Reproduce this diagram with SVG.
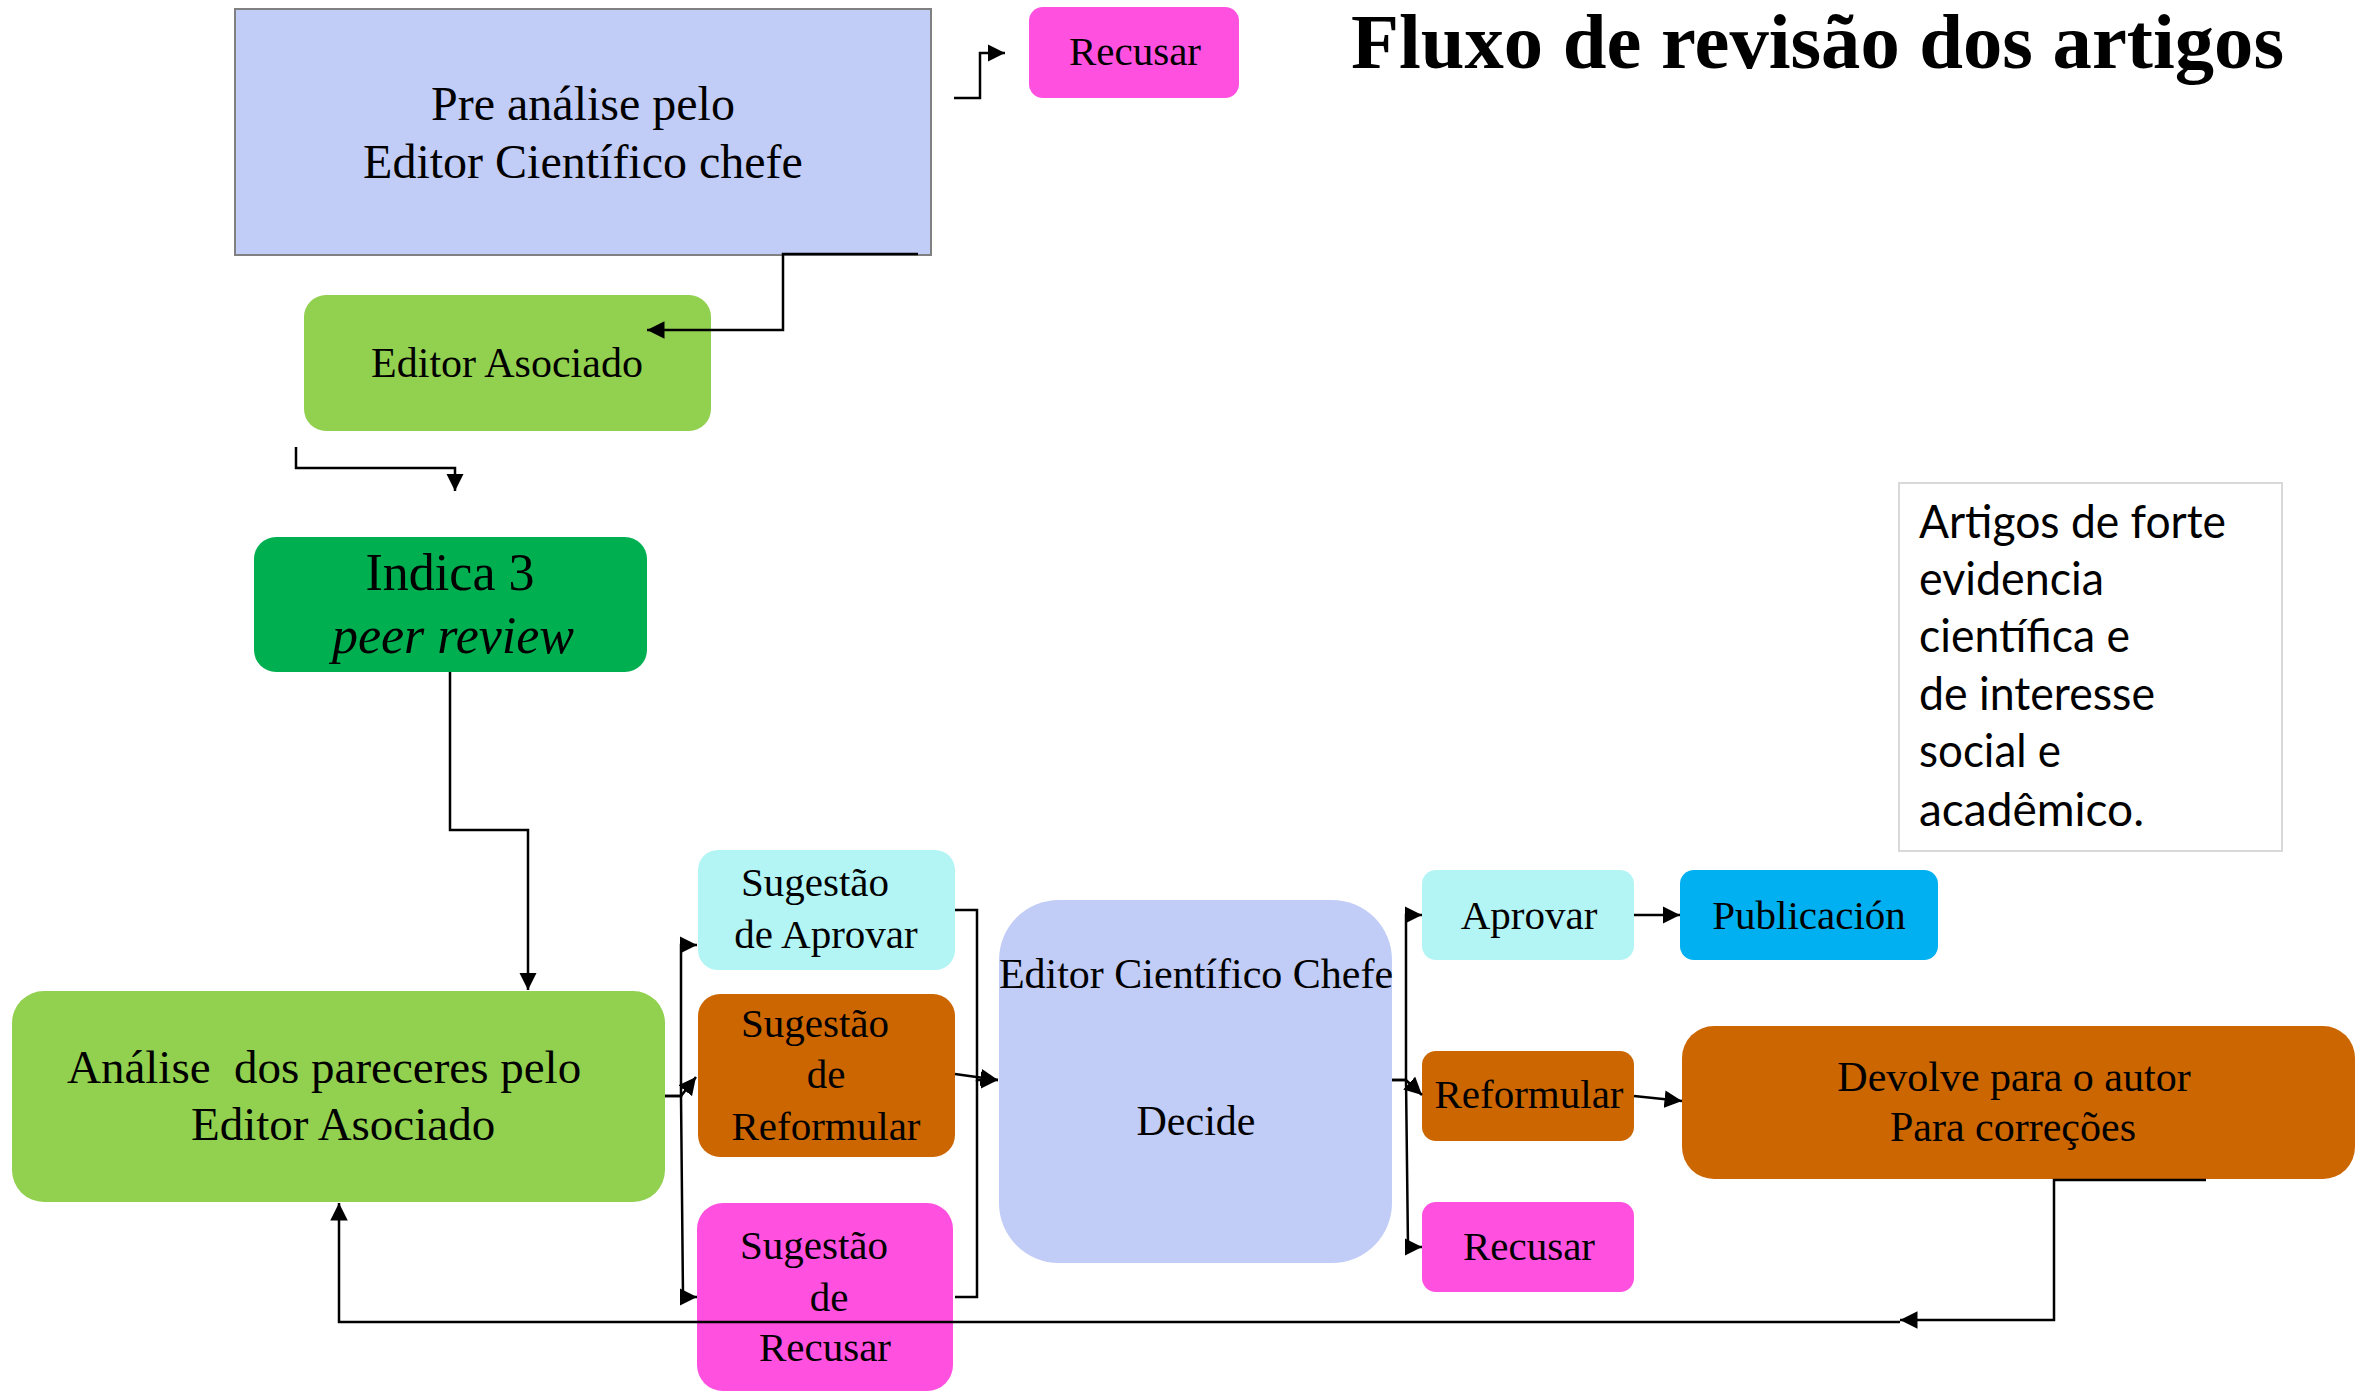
<svg xmlns="http://www.w3.org/2000/svg" width="2361" height="1393" viewBox="0 0 2361 1393">
<defs>
<style>
.t{font-family:"Liberation Serif","Times New Roman",serif;fill:#000;text-anchor:middle}
.ts{font-family:"Liberation Serif","Times New Roman",serif;fill:#000;text-anchor:start}
.s{font-family:Lato,"Open Sans",sans-serif;fill:#000;font-size:46px}
.c{fill:none;stroke:#000;stroke-width:2.5}
.blue{fill:#c1cdf7}
.pink{fill:#ff50df}
.lg{fill:#92d050}
.dg{fill:#00b050}
.cy{fill:#b3f5f5}
.or{fill:#cc6600}
.sky{fill:#00b0f0}
</style>
<marker id="ah" viewBox="0 0 10 10" refX="10" refY="5" markerWidth="7" markerHeight="7" orient="auto" markerUnits="strokeWidth"><path d="M0,0 L10,5 L0,10 z" fill="#000"/></marker>
</defs>
<rect width="2361" height="1393" fill="#fff"/>

<text class="ts" x="1351" y="68" font-size="78" font-weight="bold" textLength="933" lengthAdjust="spacingAndGlyphs">Fluxo de revisão dos artigos</text>

<g id="pre-analise">
<rect class="blue" x="235" y="9" width="696" height="246" stroke="#808080" stroke-width="2"/>
<text class="t" x="583" y="120" font-size="48">Pre análise pelo</text>
<text class="t" x="583" y="178" font-size="48">Editor Científico chefe</text>
</g>

<g id="recusar-top">
<rect class="pink" x="1029" y="7" width="210" height="91" rx="14"/>
<text class="t" x="1135" y="65" font-size="41">Recusar</text>
</g>

<g id="editor-asociado">
<rect class="lg" x="304" y="295" width="407" height="136" rx="22"/>
<text class="t" x="507" y="377" font-size="42">Editor Asociado</text>
</g>

<g id="indica">
<rect class="dg" x="254" y="537" width="393" height="135" rx="22"/>
<text class="t" x="450" y="590" font-size="52">Indica 3</text>
<text class="t" x="453" y="653" font-size="52" font-style="italic">peer review</text>
</g>

<g id="analise">
<rect class="lg" x="12" y="991" width="653" height="211" rx="32"/>
<text class="ts" x="67" y="1083" font-size="47" style="white-space:pre">Análise  dos pareceres pelo</text>
<text class="ts" x="191" y="1140" font-size="47">Editor Asociado</text>
</g>

<g id="sug-aprovar">
<rect class="cy" x="698" y="850" width="257" height="120" rx="20"/>
<text class="t" x="815" y="896" font-size="41">Sugestão</text>
<text class="t" x="826" y="948" font-size="41">de Aprovar</text>
</g>

<g id="sug-reformular">
<rect class="or" x="698" y="994" width="257" height="163" rx="22"/>
<text class="t" x="815" y="1037" font-size="41">Sugestão</text>
<text class="t" x="826" y="1088" font-size="41">de</text>
<text class="t" x="826" y="1140" font-size="41">Reformular</text>
</g>

<g id="sug-recusar">
<rect class="pink" x="697" y="1203" width="256" height="188" rx="26"/>
<text class="t" x="814" y="1259" font-size="41">Sugestão</text>
<text class="t" x="829" y="1311" font-size="41">de</text>
<text class="t" x="825" y="1361" font-size="41">Recusar</text>
</g>

<g id="decide">
<rect class="blue" x="999" y="900" width="393" height="363" rx="60"/>
<text class="t" x="1196" y="988" font-size="42">Editor Científico Chefe</text>
<text class="t" x="1196" y="1135" font-size="42">Decide</text>
</g>

<g id="aprovar">
<rect class="cy" x="1422" y="870" width="212" height="90" rx="14"/>
<text class="t" x="1529" y="929" font-size="41">Aprovar</text>
</g>

<g id="publicacion">
<rect class="sky" x="1680" y="870" width="258" height="90" rx="14"/>
<text class="t" x="1809" y="929" font-size="41">Publicación</text>
</g>

<g id="reformular">
<rect class="or" x="1422" y="1051" width="212" height="90" rx="14"/>
<text class="t" x="1529" y="1108" font-size="41">Reformular</text>
</g>

<g id="recusar-right">
<rect class="pink" x="1422" y="1202" width="212" height="90" rx="14"/>
<text class="t" x="1529" y="1260" font-size="41">Recusar</text>
</g>

<g id="devolve">
<rect class="or" x="1682" y="1026" width="673" height="153" rx="32"/>
<text class="t" x="2014" y="1091" font-size="42">Devolve para o autor</text>
<text class="t" x="2013" y="1141" font-size="42">Para correções</text>
</g>

<g id="nota">
<rect x="1899" y="483" width="383" height="368" fill="#fff" stroke="#d9d9d9" stroke-width="2"/>
<text class="s" x="1919" y="538" textLength="307" lengthAdjust="spacingAndGlyphs">Artigos de forte</text>
<text class="s" x="1919" y="595" textLength="185" lengthAdjust="spacingAndGlyphs">evidencia</text>
<text class="s" x="1919" y="652" textLength="211" lengthAdjust="spacingAndGlyphs">científica e</text>
<text class="s" x="1919" y="710" textLength="236" lengthAdjust="spacingAndGlyphs">de interesse</text>
<text class="s" x="1919" y="767" textLength="142" lengthAdjust="spacingAndGlyphs">social e</text>
<text class="s" x="1919" y="826" textLength="225" lengthAdjust="spacingAndGlyphs">acadêmico.</text>
</g>

<g id="connectors">
<path class="c" d="M954,98 H980 V53 H1005" marker-end="url(#ah)"/>
<path class="c" d="M918,254 H783 V330 H647" marker-end="url(#ah)"/>
<path class="c" d="M296,447 V468 H455 V491" marker-end="url(#ah)"/>
<path class="c" d="M450,672 V830 H528 V990" marker-end="url(#ah)"/>
<path class="c" d="M665,1096 H681 V945 H697" marker-end="url(#ah)"/>
<path class="c" d="M665,1096 H681 L696,1077" marker-end="url(#ah)"/>
<path class="c" d="M681,1096 L683,1297 H697" marker-end="url(#ah)"/>
<path class="c" d="M955,910 H977 V1080 H998" marker-end="url(#ah)"/>
<path class="c" d="M955,1297 H977 V1080"/>
<path class="c" d="M955,1074 L998,1080" marker-end="url(#ah)"/>
<path class="c" d="M1392,1080 H1406 V915 H1422" marker-end="url(#ah)"/>
<path class="c" d="M1392,1080 H1406 L1422,1095" marker-end="url(#ah)"/>
<path class="c" d="M1406,1080 L1408,1247 H1422" marker-end="url(#ah)"/>
<path class="c" d="M1634,915 H1680" marker-end="url(#ah)"/>
<path class="c" d="M1634,1096 L1682,1101" marker-end="url(#ah)"/>
<path class="c" d="M2206,1180 H2054 V1320 H1900" marker-end="url(#ah)"/>
<path class="c" d="M1900,1322 H339 V1203" stroke-width="3" marker-end="url(#ah)"/>
</g>
</svg>
